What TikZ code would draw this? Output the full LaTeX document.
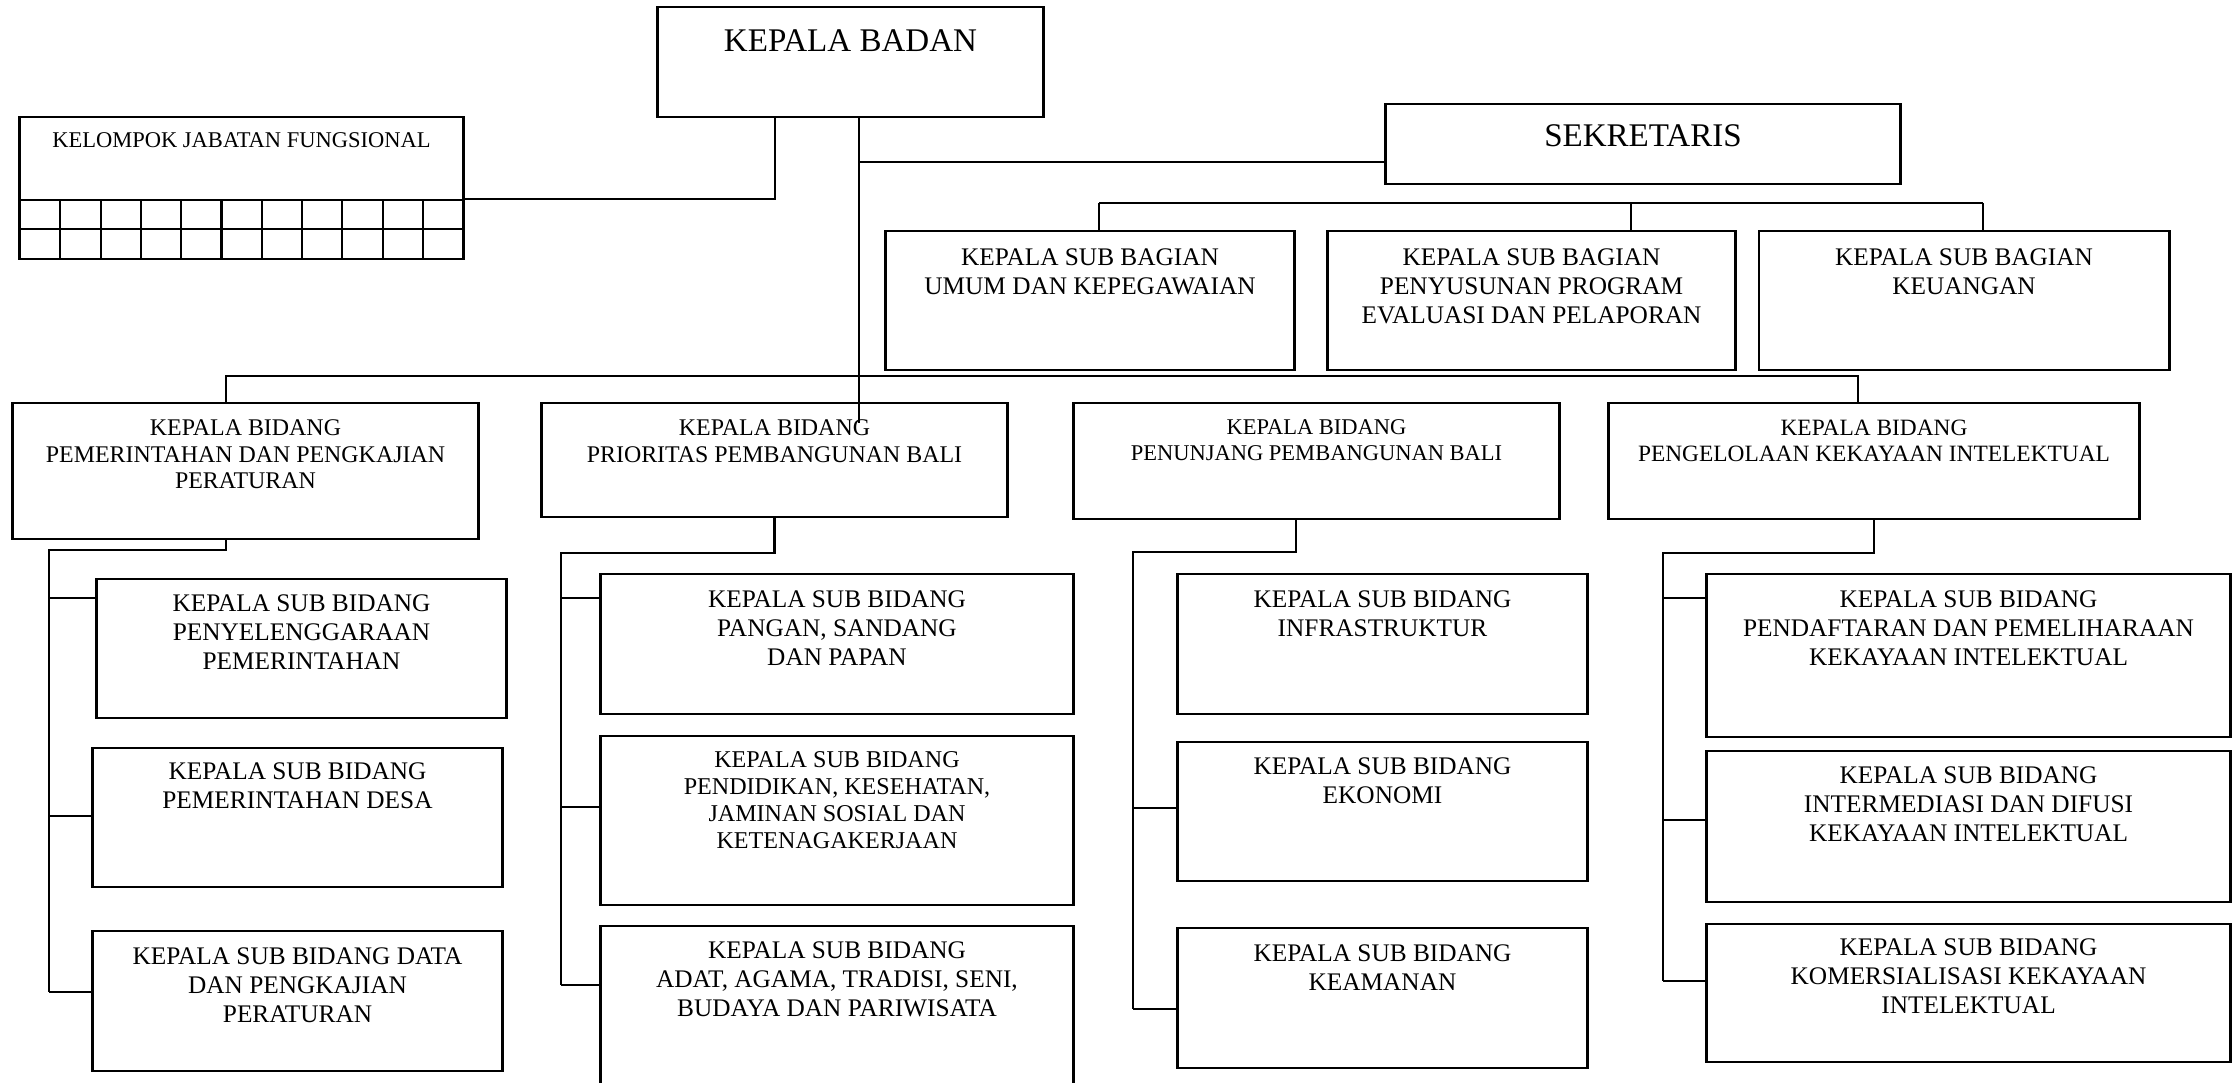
\documentclass[tikz,border=0pt]{standalone}
\usepackage{fontspec}
\setmainfont{Liberation Serif}
\usetikzlibrary{positioning}

\tikzset{
  box/.style={draw, rectangle, inner sep=0pt, line width=0.8pt},
  txt/.style={anchor=north, align=center, inner sep=0pt, font=\fontsize{7.2}{8.2}\selectfont},
  bidtxt/.style={txt, font=\fontsize{6.8}{7.6}\selectfont},
  toptxt/.style={txt, font=\fontsize{9.4}{11}\selectfont},
}

\begin{document}
\begin{tikzpicture}[x=0.01cm, y=-0.01cm, line width=0.6pt]
    \useasboundingbox (0,0) rectangle (2240,1083);
    \clip (0,0) rectangle (2240,1083);

    % Top level
    \node[box, minimum width=3.85cm, minimum height=1.10cm] (badan) at (850.5, 62) {};
    \node[toptxt] (tbadan) at ([yshift=-0.23cm]badan.north) {KEPALA BADAN};
    \node[box, minimum width=5.14cm, minimum height=0.80cm] (sekr) at (1643, 144) {};
    \node[toptxt] (tsekr) at ([yshift=-0.21cm]sekr.north) {SEKRETARIS};

    % Kelompok jabatan fungsional
    \node[box, minimum width=4.43cm, minimum height=1.42cm] (kjf) at (241.5, 188) {};
    \node[txt, font=\fontsize{6.4}{7.5}\selectfont] (tkjf) at ([yshift=-0.155cm]kjf.north) {KELOMPOK JABATAN FUNGSIONAL};
    \draw (kjf.west |- 0,200) -- (kjf.east |- 0,200);
    \draw (kjf.west |- 0,229) -- (kjf.east |- 0,229);
    \foreach \i in {1,...,10} {
        \draw ({20+\i*40.3}, 200) -- ({20+\i*40.3}, 259);
    }

    % Sub bagian
    \node[box, minimum width=4.08cm, minimum height=1.39cm] (umum) at (1090, 300.5) {};
    \node[txt] (tumum) at ([yshift=-0.18cm]umum.north) {KEPALA SUB BAGIAN\\UMUM DAN KEPEGAWAIAN};
    \node[box, minimum width=4.07cm, minimum height=1.39cm] (prog) at (1531.5, 300.5) {};
    \node[txt] (tprog) at ([yshift=-0.18cm]prog.north) {KEPALA SUB BAGIAN\\PENYUSUNAN PROGRAM\\EVALUASI DAN PELAPORAN};
    \node[box, minimum width=4.10cm, minimum height=1.39cm] (keu) at (1964, 300.5) {};
    \node[txt] (tkeu) at ([yshift=-0.18cm]keu.north) {KEPALA SUB BAGIAN\\KEUANGAN};

    % Bidang
    \node[box, minimum width=4.65cm, minimum height=1.36cm] (pem) at (245.5, 471) {};
    \node[bidtxt] (tpem) at ([yshift=-0.17cm]pem.north) {KEPALA BIDANG\\PEMERINTAHAN DAN PENGKAJIAN\\PERATURAN};
    \node[box, minimum width=4.65cm, minimum height=1.14cm] (prio) at (774.5, 460) {};
    \node[bidtxt] (tprio) at ([yshift=-0.17cm]prio.north) {KEPALA BIDANG\\PRIORITAS PEMBANGUNAN BALI};
    \node[box, minimum width=4.85cm, minimum height=1.16cm] (penu) at (1316.5, 461) {};
    \node[bidtxt, font=\fontsize{6.4}{7.5}\selectfont] (tpenu) at ([yshift=-0.165cm]penu.north) {KEPALA BIDANG\\PENUNJANG PEMBANGUNAN BALI};
    \node[box, minimum width=5.30cm, minimum height=1.16cm] (peng) at (1874, 461) {};
    \node[bidtxt, font=\fontsize{6.65}{7.6}\selectfont] (tpeng) at ([yshift=-0.17cm]peng.north) {KEPALA BIDANG\\PENGELOLAAN KEKAYAAN INTELEKTUAL};

    % Sub bidang pemerintahan
    \node[box, minimum width=4.09cm, minimum height=1.39cm] (s11) at (301.5, 648.5) {};
    \node[txt] (ts11) at ([yshift=-0.165cm]s11.north) {KEPALA SUB BIDANG\\PENYELENGGARAAN\\PEMERINTAHAN};
    \node[box, minimum width=4.09cm, minimum height=1.39cm] (s12) at (297.5, 817.5) {};
    \node[txt] (ts12) at ([yshift=-0.155cm]s12.north) {KEPALA SUB BIDANG\\PEMERINTAHAN DESA};
    \node[box, minimum width=4.09cm, minimum height=1.40cm] (s13) at (297.5, 1001) {};
    \node[txt] (ts13) at ([yshift=-0.175cm]s13.north) {KEPALA SUB BIDANG DATA\\DAN PENGKAJIAN\\PERATURAN};

    % Sub bidang prioritas
    \node[box, minimum width=4.72cm, minimum height=1.40cm] (s21) at (837, 644) {};
    \node[txt] (ts21) at ([yshift=-0.175cm]s21.north) {KEPALA SUB BIDANG\\PANGAN, SANDANG\\DAN PAPAN};
    \node[box, minimum width=4.72cm, minimum height=1.69cm] (s22) at (837, 820.5) {};
    \node[txt, font=\fontsize{6.85}{7.7}\selectfont] (ts22) at ([yshift=-0.16cm]s22.north) {KEPALA SUB BIDANG\\PENDIDIKAN, KESEHATAN,\\JAMINAN SOSIAL DAN\\KETENAGAKERJAAN};
    \node[box, minimum width=4.72cm, minimum height=1.84cm] (s23) at (837, 1018) {};
    \node[txt] (ts23) at ([yshift=-0.165cm]s23.north) {KEPALA SUB BIDANG\\ADAT, AGAMA, TRADISI, SENI,\\BUDAYA DAN PARIWISATA};

    % Sub bidang penunjang
    \node[box, minimum width=4.09cm, minimum height=1.40cm] (s31) at (1382.5, 644) {};
    \node[txt] (ts31) at ([yshift=-0.175cm]s31.north) {KEPALA SUB BIDANG\\INFRASTRUKTUR};
    \node[box, minimum width=4.09cm, minimum height=1.39cm] (s32) at (1382.5, 811.5) {};
    \node[txt] (ts32) at ([yshift=-0.165cm]s32.north) {KEPALA SUB BIDANG\\EKONOMI};
    \node[box, minimum width=4.09cm, minimum height=1.40cm] (s33) at (1382.5, 998) {};
    \node[txt] (ts33) at ([yshift=-0.175cm]s33.north) {KEPALA SUB BIDANG\\KEAMANAN};

    % Sub bidang kekayaan intelektual
    \node[box, minimum width=5.23cm, minimum height=1.63cm] (s41) at (1968.5, 655.5) {};
    \node[txt] (ts41) at ([yshift=-0.175cm]s41.north) {KEPALA SUB BIDANG\\PENDAFTARAN DAN PEMELIHARAAN\\KEKAYAAN INTELEKTUAL};
    \node[box, minimum width=5.23cm, minimum height=1.51cm] (s42) at (1968.5, 826.5) {};
    \node[txt] (ts42) at ([yshift=-0.165cm]s42.north) {KEPALA SUB BIDANG\\INTERMEDIASI DAN DIFUSI\\KEKAYAAN INTELEKTUAL};
    \node[box, minimum width=5.23cm, minimum height=1.38cm] (s43) at (1968.5, 993) {};
    \node[txt] (ts43) at ([yshift=-0.155cm]s43.north) {KEPALA SUB BIDANG\\KOMERSIALISASI KEKAYAAN\\INTELEKTUAL};

    % Junctions
    \coordinate (kj) at (775, 199);
    \coordinate (tr1) at (859, 162);
    \coordinate (tr2) at (859, 423);
    \coordinate (sb1) at (1099, 203);
    \coordinate (sb2) at (1631, 203);
    \coordinate (sb3) at (1983, 203);
    \coordinate (bb1) at (226, 376);
    \coordinate (bb2) at (1858, 376);
    \coordinate (c1) at (49, 550);
    \coordinate (c2) at (561, 553);
    \coordinate (c3) at (1133, 552);
    \coordinate (c4) at (1663, 553);

    % Connections
    \draw (kjf.east |- kj) -- (kj) -- (badan.south -| kj);
    \draw (badan.south -| tr1) -- (tr2);
    \draw (tr1) -- (sekr.west |- tr1);
    \draw (sb1) -- (sb3);
    \draw (sb1) -- (umum.north -| sb1);
    \draw (sb2) -- (prog.north -| sb2);
    \draw (sb3) -- (keu.north -| sb3);
    \draw (pem.north -| bb1) -- (bb1) -- (bb2) -- (peng.north -| bb2);

    \draw (pem.south -| bb1) |- (c1) -- (c1 |- 0,992);
    \foreach \b/\y in {s11/598, s12/816, s13/992} {
        \draw (c1 |- 0,\y) -- (\b.west |- 0,\y);
    }
    \draw (prio.south) |- (c2) -- (c2 |- 0,985);
    \foreach \b/\y in {s21/598, s22/807, s23/985} {
        \draw (c2 |- 0,\y) -- (\b.west |- 0,\y);
    }
    \draw (penu.south -| 1296,0) |- (c3) -- (c3 |- 0,1009);
    \foreach \b/\y in {s32/808, s33/1009} {
        \draw (c3 |- 0,\y) -- (\b.west |- 0,\y);
    }
    \draw (peng.south) |- (c4) -- (c4 |- 0,981);
    \foreach \b/\y in {s41/598, s42/820, s43/981} {
        \draw (c4 |- 0,\y) -- (\b.west |- 0,\y);
    }
\end{tikzpicture}
\end{document}
